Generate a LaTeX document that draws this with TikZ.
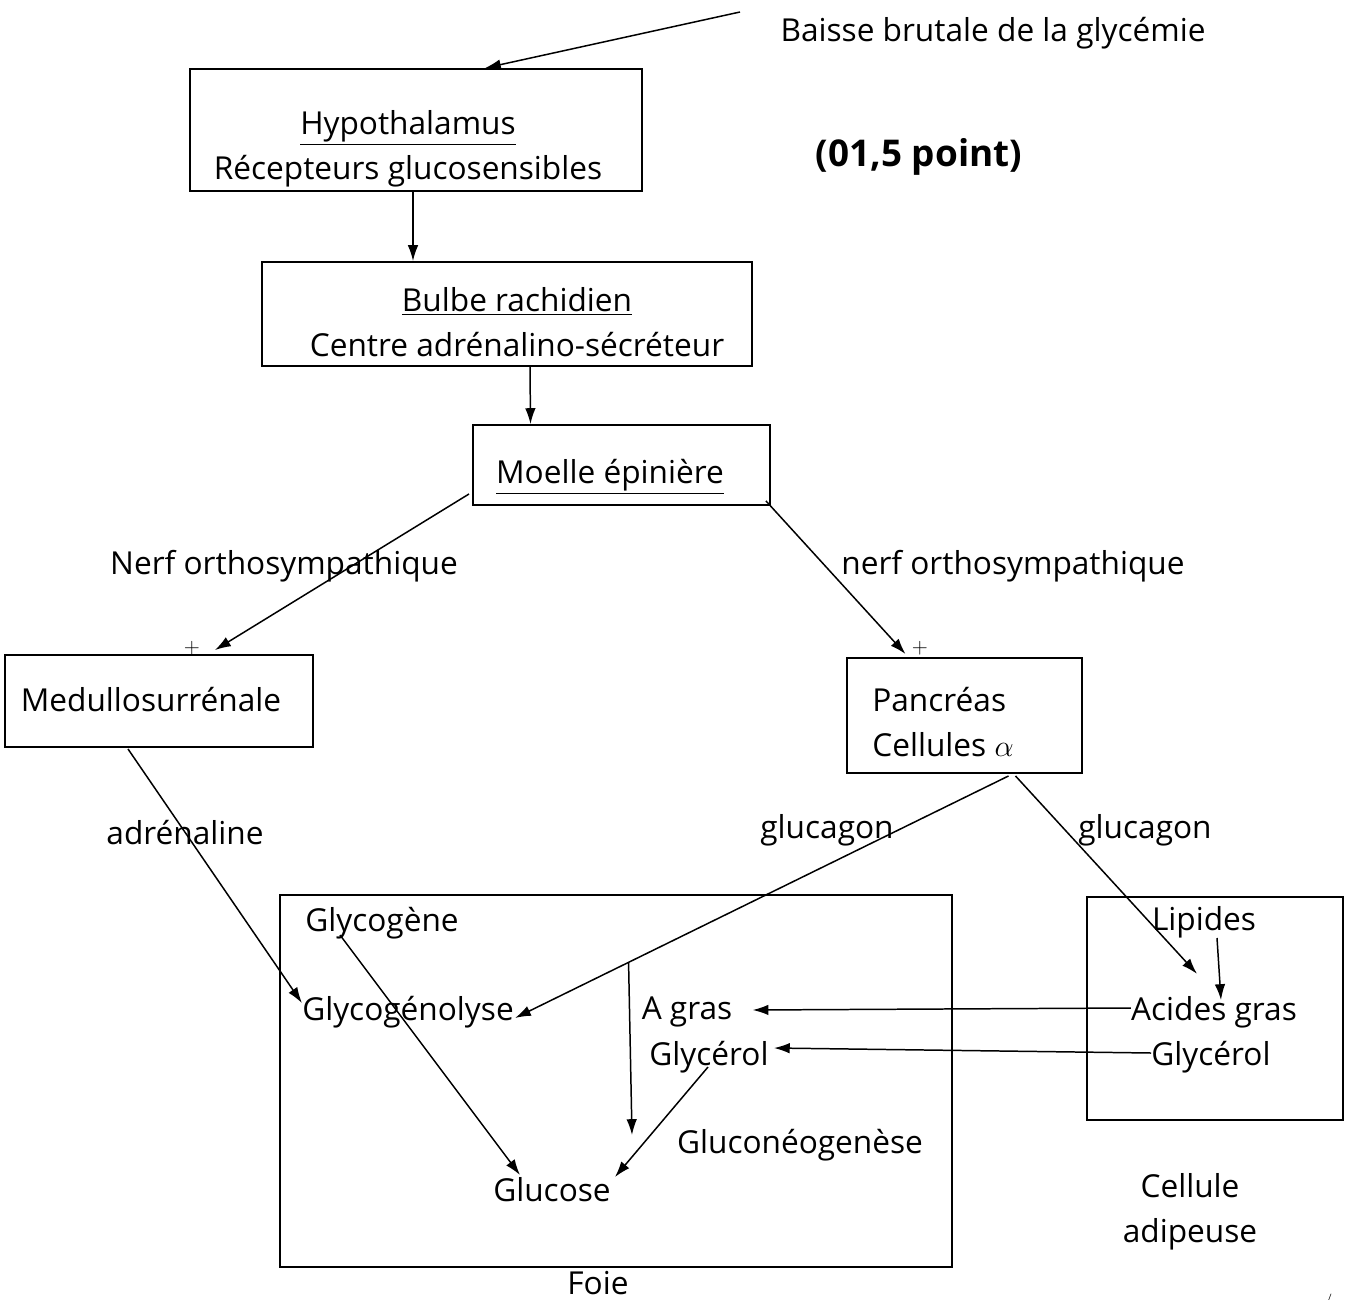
\documentclass[tikz,border=0pt]{standalone}
\usepackage{fontspec}
\setmainfont{Open Sans}
\usetikzlibrary{positioning, arrows.meta, calc, fit}

\tikzset{
  box/.style={draw, line width=1.1pt, inner sep=0pt},
  lbl/.style={inner sep=0pt},
  plus/.style={inner sep=0pt, font=\fontsize{13}{13}\selectfont},
  link/.style={line width=0.85pt, -{Latex[length=9pt, width=6pt]}}
}

\begin{document}
\begin{tikzpicture}[x=0.02cm, y=-0.02cm, font=\fontsize{18}{25.6}\selectfont]
    \useasboundingbox (0,0) rectangle (1345,1304);

    % boxes
    \node[box, fit={(190,69) (642,191)}] (hypo) {};
    \node[box, fit={(262,262) (752,366)}] (bulbe) {};
    \node[box, fit={(473,425) (770,505)}] (moelle) {};
    \node[box, fit={(5,655) (313,747)}] (medullo) {};
    \node[box, fit={(847,658) (1082,773)}] (pancreas) {};
    \node[box, fit={(280,895) (952,1267)}] (foie) {};
    \node[box, fit={(1087,897) (1343,1120)}] (adipo) {};

    % texts
    \node[lbl] (baisse) at (993,33) {Baisse brutale de la glycémie};
    \node[lbl, align=center] (hypotxt) at (408,149) {\underline{Hypothalamus}\\Récepteurs glucosensibles};
    \node[lbl, font=\fontsize{21}{25.6}\selectfont\bfseries] (note) at (919,157) {(01,5 point)};
    \node[lbl, align=center] (bulbetxt) at (517,322) {\underline{Bulbe rachidien}\\Centre adrénalino-sécréteur};
    \node[lbl] (moelletxt) at (610,477) {\underline{Moelle épinière}};
    \node[lbl] (nerfg) at (284,566) {Nerf orthosympathique};
    \node[lbl] (nerfd) at (1013,566) {nerf orthosympathique};
    \node[plus] (plusg) at (192,648) {$+$};
    \node[plus] (plusd) at (920,648) {$+$};
    \node[lbl] (medullotxt) at (151,700) {Medullosurrénale};
    \node[lbl, align=left, anchor=west] (pancreastxt) at (872,722) {Pancréas\\Cellules $\alpha$};
    \node[lbl] (adrenaline) at (185,833) {adrénaline};
    \node[lbl] (glucagong) at (827,830) {glucagon};
    \node[lbl] (glucagond) at (1145,830) {glucagon};

    \node[lbl, anchor=west] (glycogene) at (305,923) {Glycogène};
    \node[lbl] (glycogenolyse) at (408,1012) {Glycogénolyse};
    \node[lbl] (agras) at (687,1012) {A gras};
    \node[lbl] (glycerolf) at (709,1057) {Glycérol};
    \node[lbl] (neo) at (800,1145) {Gluconéogenèse};
    \node[lbl] (glucose) at (552,1190) {Glucose};
    \node[lbl] (foietxt) at (598,1283) {Foie};

    \node[lbl] (lipides) at (1204,922) {Lipides};
    \node[lbl] (acides) at (1214,1012) {Acides gras};
    \node[lbl] (glycerola) at (1211,1057) {Glycérol};
    \node[lbl, align=center] (adipotxt) at (1190,1212) {Cellule\\adipeuse};
    \node[lbl, font=\tiny] (marque) at (1330,1297) {/};

    \coordinate (stimulus) at (740,12);
    \coordinate (gluend) at (632,1135);

    % connectors
    \draw[link] (stimulus) -- ($(hypo.north)+(69,0)$);
    \draw[link] ($(hypo.south)+(-3,0)$) -- ($(bulbe.north)+(-94,0)$);
    \draw[link] ($(bulbe.south)+(23,0)$) -- ($(moelle.north)+(-91,0)$);
    \draw[link] ($(moelle.south west)+(-3,-12)$) -- ($(medullo.north)+(56,-4)$);
    \draw[link] ($(moelle.south east)+(-5,-5)$) -- ($(pancreas.north)+(-59,-3)$);
    \draw[link] ($(medullo.south)+(-31,1)$) -- ($(glycogenolyse.west)+(0,-9)$);
    \draw[link] ($(pancreas.south)+(44,2)$) -- coordinate[pos=0.77] (branch) ($(glycogenolyse.east)+(1,6)$);
    \draw[link] ($(pancreas.south)+(51,2)$) -- ($(acides.north)+(-17,-22)$);
    \draw[link] ($(lipides)+(13,16)$) -- ($(acides)+(7,-12)$);
    \draw[link] ($(acides.west)+(0,-4)$) -- ($(agras.east)+(20,-2)$);
    \draw[link] ($(glycerola.west)+(0,-4)$) -- ($(glycerolf.east)+(5,-9)$);
    \draw[link] ($(glycogene.west)+(35,12)$) -- ($(glucose)+(-32,-15)$);
    \draw[link] (branch) -- (gluend);
    \draw[link] ($(glycerolf)+(-1,10)$) -- ($(glucose)+(63,-13)$);
\end{tikzpicture}
\end{document}
